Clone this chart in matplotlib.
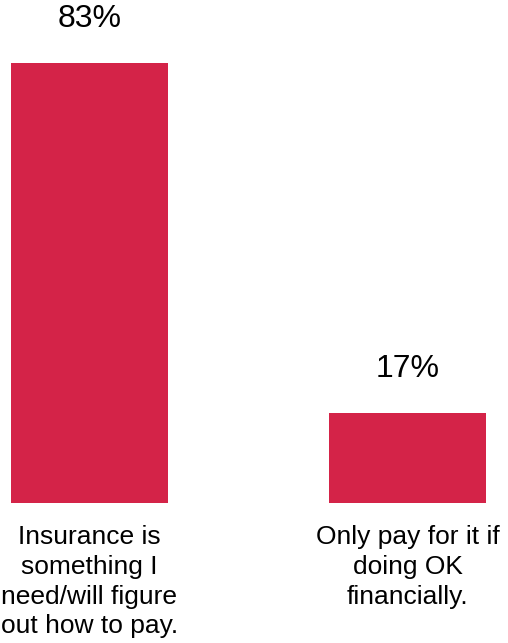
import matplotlib.pyplot as plt

# data
categories = ['Insurance is\nsomething I\nneed/will figure\nout how to pay.',
              'Only pay for it if\ndoing OK\nfinancially.']
values = [83, 17]
value_labels = ['83%', '17%']

plt.rcParams['font.family'] = ['Liberation Sans', 'DejaVu Sans']

fig = plt.figure(figsize=(5.08, 6.43), dpi=100)
ax = fig.add_axes([0, 140 / 643, 1, 503 / 643])

x = list(range(len(categories)))
bars = ax.bar(x, values, width=0.494, color='#D42348')

for xi, v, lab in zip(x, values, value_labels):
    ax.annotate(lab, (xi, v), xytext=(0, 26), textcoords='offset points',
                ha='center', va='baseline', fontsize=23)

ax.set_xlim(-0.2814, 1.316)
ax.set_ylim(0, 94.9)
ax.set_xticks(x)
ax.set_xticklabels(categories, fontsize=19, linespacing=1.3)
ax.tick_params(axis='x', length=0, pad=16)
ax.set_yticks([])
for sp in ax.spines.values():
    sp.set_visible(False)

fig.savefig('out.png', dpi=100)
